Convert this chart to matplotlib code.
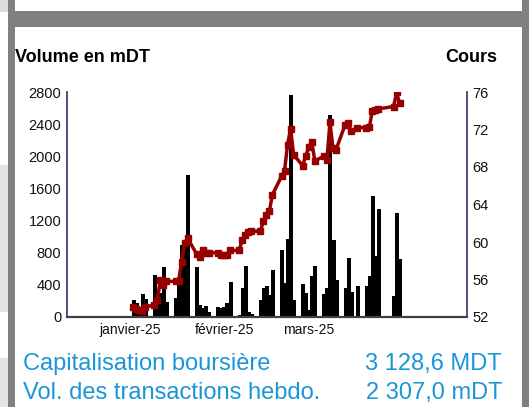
import matplotlib
matplotlib.use('Agg')
import matplotlib.pyplot as plt
from matplotlib.patches import Rectangle
import pandas as pd

plt.rcParams['font.family'] = ['Liberation Sans', 'DejaVu Sans']

# seances (jours de bourse), volume en mDT, cours
dates = ['2025-01-06', '2025-01-07', '2025-01-08', '2025-01-09', '2025-01-10',
         '2025-01-13', '2025-01-14', '2025-01-15', '2025-01-16', '2025-01-17',
         '2025-01-20', '2025-01-21', '2025-01-22', '2025-01-23', '2025-01-24',
         '2025-01-27', '2025-01-28', '2025-01-29', '2025-01-30', '2025-01-31',
         '2025-02-03', '2025-02-04', '2025-02-05', '2025-02-06', '2025-02-07',
         '2025-02-10', '2025-02-11', '2025-02-12', '2025-02-13', '2025-02-14',
         '2025-02-17', '2025-02-18', '2025-02-19', '2025-02-20', '2025-02-21',
         '2025-02-24', '2025-02-25', '2025-02-26', '2025-02-27', '2025-02-28',
         '2025-03-03', '2025-03-04', '2025-03-05', '2025-03-06', '2025-03-07',
         '2025-03-10', '2025-03-11', '2025-03-12', '2025-03-13', '2025-03-14',
         '2025-03-17', '2025-03-18', '2025-03-19', '2025-03-21',
         '2025-03-24', '2025-03-25', '2025-03-26', '2025-03-27', '2025-03-28',
         '2025-04-02', '2025-04-03', '2025-04-04']

volumes = [210, 178, 75, 290, 230,
           525, 190, 300, 628, 182,
           240, 425, 900, 920, 1770,
           628, 154, 115, 132, 58,
           130, 107, 125, 173, 435,
           30, 360, 630, 58, 32,
           207, 363, 385, 280, 582,
           830, 425, 975, 2760, 207,
           405, 300, 87, 508, 632,
           281, 363, 2512, 954, 458,
           363, 735, 310, 384,
           384, 508, 1500, 756, 1347,
           260, 1300, 727]

prices = [53.05, 52.85, 52.7, 52.6, 53.05,
          53.3, 53.8, 56.0, 55.4, 55.8,
          55.8, 55.8, 57.9, 59.9, 60.4,
          58.7, 58.4, 59.1, 58.85, 58.85,
          58.85, 58.6, 58.6, 58.6, 59.1,
          59.1, 60.2, 60.7, 61.1, 61.15,
          61.15, 62.2, 62.9, 63.3, 65.05,
          67.0, 67.6, 70.4, 72.1, 69.3,
          68.15, 69.2, 70.1, 70.7, 68.65,
          69.15, 68.8, 72.75, 70.0, 69.85,
          72.5, 72.7, 71.8, 72.2,
          72.2, 72.25, 74.0, 74.1, 74.2,
          74.45, 75.95, 74.8]

tick_dates = ['2025-01-05', '2025-02-05', '2025-03-05']
tick_labels = ['janvier-25', 'février-25', 'mars-25']

vol_ticks = [0, 400, 800, 1200, 1600, 2000, 2400, 2800]
cours_ticks = [52, 56, 60, 64, 68, 72, 76]

capi_label, capi_value = 'Capitalisation boursière', '3 128,6 MDT'
vol_label, vol_value = 'Vol. des transactions hebdo.', '2 307,0 mDT'

W, H = 529, 407
x = pd.to_datetime(dates)

fig = plt.figure(figsize=(W / 100, H / 100), dpi=100)


def box(x0, y0, x1, y1, color):
    # rectangle en pixels (origine en haut a gauche)
    fig.add_artist(Rectangle((x0 / W, 1 - y1 / H), (x1 - x0) / W, (y1 - y0) / H,
                             transform=fig.transFigure, color=color, lw=0, zorder=0))


def ftext(px, py, s, **kw):
    fig.text(px / W, 1 - py / H, s, va='center', **kw)


# cadre de la page
box(0, 0, 8, 12, '#dcdcdc')
box(0, 165, 8, 312, '#e4e4e4')
box(0, 358, 8, 407, '#e4e4e4')
box(8, 0, 15, 407, '#808080')
box(15, 11, 529, 27, '#808080')
box(522, 0, 529, 407, '#808080')

ax = fig.add_axes([67 / W, 1 - 317 / H, 400 / W, 225 / H])
ax.bar(x, volumes, width=1.0, color='black', edgecolor='black', linewidth=0.4,
       align='center', antialiased=False, zorder=2)
ax.set_ylim(0, 2800)
ax.set_yticks(vol_ticks)
ax.set_xlim(pd.Timestamp('2024-12-15 04:00'), pd.Timestamp('2025-04-26 06:00'))
ax.set_xticks(pd.to_datetime(tick_dates))
ax.set_xticklabels(tick_labels)

ax2 = ax.twinx()
ax2.plot(x, prices, color='#960000', lw=2.5, marker='s', ms=3.8, zorder=3)
ax2.set_ylim(52, 76)
ax2.set_yticks(cours_ticks)

navy = '#3c4280'
for a in (ax, ax2):
    a.spines['top'].set_visible(False)
    a.tick_params(length=0, labelsize=10.5, colors='#111111')
ax.tick_params(axis='y', pad=4)
ax.tick_params(axis='x', pad=4, labelsize=10)
ax2.tick_params(axis='y', pad=4)
ax.spines['left'].set_color(navy)
ax.spines['left'].set_linewidth(1.3)
ax.spines['right'].set_visible(False)
ax.spines['bottom'].set_color('#404040')
ax.spines['bottom'].set_linewidth(1.6)
ax2.spines['left'].set_visible(False)
ax2.spines['bottom'].set_visible(False)
ax2.spines['right'].set_color(navy)
ax2.spines['right'].set_linewidth(1.3)

ftext(15, 58, 'Volume en mDT', ha='left', fontsize=13, fontweight='bold')
ftext(497, 58, 'Cours', ha='right', fontsize=13, fontweight='bold')

blue = '#1996d8'
ftext(23, 364, capi_label, ha='left', fontsize=17, color=blue)
ftext(502, 364, capi_value, ha='right', fontsize=17, color=blue)
ftext(23, 393, vol_label, ha='left', fontsize=17, color=blue)
ftext(502, 393, vol_value, ha='right', fontsize=17, color=blue)

fig.savefig('out.png', dpi=100)
